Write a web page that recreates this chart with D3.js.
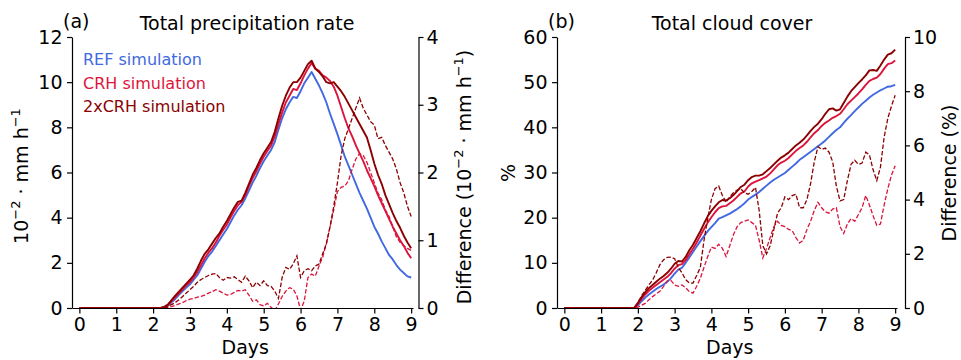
<!DOCTYPE html>
<html>
<head>
<meta charset="utf-8">
<script src="https://cdn.jsdelivr.net/npm/d3@7"></script>
<style>
  body { margin: 0; background: #fff; }
  text { font-family: "DejaVu Sans", sans-serif; }
</style>
</head>
<body>
<svg id="chart" width="961" height="360"></svg>
<script>
// time axis (days), shared by every series
const days = [0, 1.8, 1.9,
  2.0, 2.1, 2.2, 2.3, 2.4, 2.5, 2.6, 2.7, 2.8, 2.9,
  3.0, 3.1, 3.2, 3.3, 3.4, 3.5, 3.6, 3.7, 3.8, 3.9,
  4.0, 4.1, 4.2, 4.3, 4.4, 4.5, 4.6, 4.7, 4.8, 4.9,
  5.0, 5.1, 5.2, 5.3, 5.4, 5.5, 5.6, 5.7, 5.8, 5.9,
  6.0, 6.1, 6.2, 6.3, 6.4, 6.5, 6.6, 6.7, 6.8, 6.9,
  7.0, 7.1, 7.2, 7.3, 7.4, 7.5, 7.6, 7.7, 7.8, 7.9,
  8.0, 8.1, 8.2, 8.3, 8.4, 8.5, 8.6, 8.7, 8.8, 8.9,
  9.0];

// (a) total precipitation rate, 10^-2 mm/h
const precipREF = [0, 0, 0,
  0, 0, 0, 0.02, 0.1, 0.25, 0.4, 0.58, 0.75, 0.9,
  1.05, 1.25, 1.45, 1.75, 2.05, 2.3, 2.5, 2.75, 3.0, 3.25,
  3.5, 3.8, 4.1, 4.35, 4.55, 4.85, 5.2, 5.55, 5.85, 6.2,
  6.5, 6.75, 7.0, 7.35, 7.9, 8.4, 8.8, 9.1, 9.35, 9.3,
  9.6, 9.95, 10.2, 10.45, 10.15, 9.85, 9.5, 9.1, 8.6, 8.15,
  7.7, 7.2, 6.7, 6.3, 5.9, 5.5, 5.1, 4.75, 4.4, 4.0,
  3.6, 3.3, 2.95, 2.65, 2.35, 2.15, 1.9, 1.7, 1.55, 1.4,
  1.35];
const precipCRH = [0, 0, 0,
  0, 0, 0, 0.03, 0.12, 0.3, 0.48, 0.65, 0.82, 1.0,
  1.15, 1.35, 1.6, 1.9, 2.2, 2.45, 2.65, 2.9, 3.2, 3.45,
  3.7, 4.0, 4.3, 4.55, 4.7, 5.0, 5.4, 5.75, 6.05, 6.4,
  6.7, 6.95, 7.2, 7.6, 8.15, 8.65, 9.1, 9.4, 9.7, 9.65,
  9.95, 10.3, 10.6, 10.85, 10.6, 10.5, 10.3, 10.2, 10.05, 9.8,
  9.4, 8.9, 8.4, 7.95, 7.6, 7.2, 6.85, 6.5, 6.1, 5.75,
  5.4, 5.0, 4.65, 4.3, 3.95, 3.6, 3.3, 3.0, 2.75, 2.45,
  2.2];
const precip2xCRH = [0, 0, 0,
  0, 0, 0, 0.05, 0.15, 0.35, 0.55, 0.72, 0.9, 1.08,
  1.25, 1.45, 1.75, 2.1, 2.4, 2.6, 2.85, 3.1, 3.3, 3.6,
  3.85, 4.15, 4.45, 4.7, 4.75, 5.1, 5.5, 5.9, 6.2, 6.55,
  6.85, 7.1, 7.35, 7.8, 8.4, 8.95, 9.4, 9.75, 10.0, 10.0,
  10.2, 10.5, 10.8, 10.95, 10.6, 10.45, 10.25, 10.0, 9.95, 10.0,
  9.8, 9.6, 9.35, 9.05, 8.75, 8.45, 8.15, 7.85, 7.55, 7.0,
  6.4, 5.9, 5.5, 5.0, 4.6, 4.2, 3.85, 3.55, 3.2, 2.9,
  2.65];
// differences to REF (right axis)
const precipDiffCRH = [0, 0, 0,
  0, 0, 0, 0, 0.01, 0.02, 0.04, 0.06, 0.08, 0.11,
  0.13, 0.14, 0.16, 0.17, 0.19, 0.22, 0.24, 0.27, 0.25, 0.22,
  0.19, 0.2, 0.23, 0.26, 0.25, 0.27, 0.19, 0.1, 0.12, 0.05,
  0.03, 0.07, 0.01, -0.04, 0.06, 0.17, 0.25, 0.3, 0.28, 0.18,
  -0.03, 0.1, 0.45, 0.5, 0.47, 0.62, 0.75, 0.95, 1.2, 1.45,
  1.72, 1.78, 1.8, 1.88, 2.05, 2.2, 2.28, 2.25, 2.15, 2.0,
  1.85, 1.7, 1.6, 1.45, 1.35, 1.2, 1.05, 0.97, 0.92, 0.88,
  0.85];
const precipDiff2xCRH = [0, 0, 0,
  0, 0, 0, 0, 0.02, 0.05, 0.08, 0.12, 0.17, 0.22,
  0.27, 0.32, 0.38, 0.42, 0.45, 0.48, 0.5, 0.51, 0.45, 0.41,
  0.45, 0.44, 0.46, 0.42, 0.38, 0.47, 0.4, 0.3, 0.38, 0.33,
  0.4, 0.33, 0.32, 0.25, 0.14, 0.45, 0.6, 0.57, 0.65, 0.77,
  0.45, 0.55, 0.58, 0.55, 0.62, 0.65, 0.8, 0.95, 1.2, 1.5,
  1.85, 2.25, 2.5, 2.65, 2.8, 2.95, 3.1, 2.95, 2.85, 2.75,
  2.7, 2.5, 2.52, 2.4, 2.3, 2.2, 2.05, 1.85, 1.7, 1.5,
  1.35];

// (b) total cloud cover, %
const cloudREF = [0, 0, 0,
  0.6, 1.5, 2.3, 3.0, 3.6, 4.2, 4.7, 5.2, 5.8, 6.6,
  7.6, 8.5, 8.9, 10.0, 11.2, 12.4, 13.6, 14.8, 15.9, 17.0,
  17.9, 18.8, 19.8, 20.1, 20.5, 20.9, 21.4, 21.9, 22.5, 23.2,
  24.0, 24.6, 25.1, 25.7, 26.4, 27.1, 27.8, 28.4, 28.9, 29.4,
  29.9, 30.6, 31.3, 32.0, 32.8, 33.4, 34.0, 34.6, 35.2, 35.8,
  36.4, 37.1, 37.9, 38.7, 39.4, 40.0, 41.0, 41.9, 42.7, 43.6,
  44.4, 45.2, 45.9, 46.6, 47.2, 47.7, 48.2, 48.6, 49.0, 49.1,
  49.4];
const cloudCRH = [0, 0, 0,
  0.9, 2.0, 3.0, 3.8, 4.5, 5.1, 5.7, 6.3, 6.9, 7.7,
  8.7, 9.5, 9.7, 10.6, 11.9, 13.1, 14.5, 16.0, 17.5, 18.9,
  20.1, 21.2, 22.1, 22.5, 22.6, 23.2, 23.8, 24.6, 25.4, 25.8,
  26.9, 27.6, 28.0, 28.3, 28.7, 29.1, 29.8, 30.7, 31.6, 32.2,
  32.6, 33.2, 34.0, 34.8, 35.4, 36.0, 36.8, 37.8, 38.7, 39.4,
  40.3, 41.0, 41.5, 42.1, 42.5, 43.0, 44.0, 45.1, 45.9, 46.7,
  47.5, 48.4, 49.4, 50.3, 50.7, 51.0, 51.8, 53.0, 54.0, 54.2,
  54.8];
const cloud2xCRH = [0, 0, 0,
  1.1, 2.4, 3.5, 4.4, 5.1, 5.8, 6.5, 7.1, 7.8, 8.7,
  9.8, 10.4, 10.3, 11.3, 12.8, 14.0, 15.5, 17.0, 18.7, 20.3,
  21.5, 22.5, 23.4, 23.9, 23.8, 24.3, 25.0, 25.9, 26.8, 27.3,
  28.3, 29.0, 29.3, 29.3, 29.6, 30.3, 31.0, 31.8, 32.6, 33.3,
  33.8, 34.4, 35.2, 36.0, 36.6, 37.3, 38.2, 39.2, 40.1, 40.8,
  41.8, 43.0, 44.0, 44.2, 43.7, 44.0, 45.4, 46.8, 48.0, 48.9,
  49.8, 50.6, 51.5, 52.6, 52.7, 52.5, 53.7, 55.0, 56.1, 56.4,
  57.2];
const cloudDiffCRH = [0, 0, 0,
  0.03, 0.1, 0.17, 0.3, 0.42, 0.52, 0.62, 0.8, 1.0, 1.02,
  0.85, 0.8, 0.85, 0.75, 0.6, 0.55, 0.8, 1.1, 1.5, 1.9,
  2.25, 2.2, 2.35, 2.2, 1.9, 2.3, 2.7, 3.0, 3.15, 3.2,
  3.25, 3.15, 3.05, 2.5, 1.85, 2.2, 2.6, 3.0, 3.2, 3.05,
  3.0, 2.9, 2.85, 2.6, 2.4, 2.5, 2.9, 3.2, 3.6, 3.9,
  3.7, 3.55, 3.5, 3.65, 3.7, 3.0, 2.75, 3.1, 3.3, 3.2,
  3.45, 3.7, 4.15, 3.8, 3.4, 3.05, 3.1, 3.8, 4.4, 4.9,
  5.25];
const cloudDiff2xCRH = [0, 0, 0,
  0.2, 0.45, 0.65, 0.85, 1.03, 1.3, 1.6, 1.78, 1.87, 1.88,
  1.82, 1.5, 1.3, 1.05, 0.92, 0.92, 1.2, 1.5, 2.5, 3.3,
  4.0, 4.4, 4.5, 4.15, 3.9, 4.1, 4.25, 4.35, 4.4, 4.25,
  4.2, 4.3, 4.45, 3.6, 2.3, 2.0, 2.3, 2.9, 3.5, 3.7,
  4.1, 4.0, 4.15, 4.2, 3.7, 3.7, 4.0, 4.6, 5.4, 5.95,
  5.85, 5.9, 5.75, 5.4, 4.5, 3.95, 4.0, 4.7, 5.3, 5.45,
  5.3, 5.35, 5.75, 5.65, 5.1, 4.7, 5.2, 6.3, 7.0, 7.45,
  7.85];

const dayTicks = [0, 1, 2, 3, 4, 5, 6, 7, 8, 9];
const legendLabels = ['REF simulation', 'CRH simulation', '2xCRH simulation'];

const colREF = '#4169e1', colCRH = '#dc143c', col2x = '#8b0000';

const svg = d3.select('#chart');
svg.append('rect').attr('width', 961).attr('height', 360).attr('fill', '#fff');

const plotTop = 37, plotBottom = 308;

function styleAxis(g) {
  g.selectAll('path.domain').attr('stroke', '#000').attr('stroke-width', 1.2);
  g.selectAll('.tick line').attr('stroke', '#000').attr('stroke-width', 1.2);
  g.selectAll('.tick text')
    .attr('fill', '#000')
    .style('font-family', '"DejaVu Sans", sans-serif')
    .style('font-size', '19px');
}

// rotated label; parts = [[text, isSuperscript], ...]
function rotLabel(x, y, parts) {
  const t = svg.append('text')
    .attr('transform', 'translate(' + x + ',' + y + ') rotate(-90)')
    .attr('text-anchor', 'middle')
    .style('font-size', '19px')
    .attr('fill', '#000');
  let raised = false;
  parts.forEach(p => {
    const sp = t.append('tspan').text(p[0]);
    if (p[1]) {
      sp.attr('dy', raised ? 0 : -8).style('font-size', '13px');
      raised = true;
    } else {
      sp.attr('dy', raised ? 8 : 0);
      raised = false;
    }
  });
  return t;
}

function panel(o) {
  const x = d3.scaleLinear().domain([-0.2, 9.05]).range([o.left, o.right]);
  const y = d3.scaleLinear().domain([0, o.yMax]).range([plotBottom, plotTop]);
  const y2 = d3.scaleLinear().domain([0, o.y2Max]).range([plotBottom, plotTop]);

  const clipId = 'clip' + o.id;
  svg.append('clipPath').attr('id', clipId)
    .append('rect').attr('x', o.left).attr('y', plotTop - 2)
    .attr('width', o.rightSpine - o.left).attr('height', plotBottom - plotTop + 2);

  const gx = svg.append('g')
    .attr('transform', 'translate(0,' + plotBottom + ')')
    .call(d3.axisBottom(x).tickValues(dayTicks).tickFormat(d3.format('d'))
      .tickSize(5.5).tickSizeOuter(0).tickPadding(4.5));
  styleAxis(gx);

  const gy = svg.append('g')
    .attr('transform', 'translate(' + o.left + ',0)')
    .call(d3.axisLeft(y).tickValues(o.yTicks).tickFormat(d3.format('d'))
      .tickSize(5).tickSizeOuter(0).tickPadding(4.5));
  styleAxis(gy);

  const gy2 = svg.append('g')
    .attr('transform', 'translate(' + o.rightSpine + ',0)')
    .call(d3.axisRight(y2).tickValues(o.y2Ticks).tickFormat(d3.format('d'))
      .tickSize(5).tickSizeOuter(0).tickPadding(3));
  styleAxis(gy2);

  const lineL = d3.line().x((d, i) => x(days[i])).y(d => y(d));
  const lineR = d3.line().x((d, i) => x(days[i])).y(d => y2(d));

  const plot = svg.append('g').attr('clip-path', 'url(#' + clipId + ')');

  [[o.ref, colREF], [o.crh, colCRH], [o.x2, col2x]].forEach(s => {
    plot.append('path').datum(s[0])
      .attr('d', lineL)
      .attr('fill', 'none')
      .attr('stroke', s[1])
      .attr('stroke-width', 1.9)
      .attr('stroke-linejoin', 'round');
  });

  [[o.dCrh, colCRH], [o.d2x, col2x]].forEach(s => {
    plot.append('path').datum(s[0])
      .attr('d', lineR)
      .attr('fill', 'none')
      .attr('stroke', s[1])
      .attr('stroke-width', 1.3)
      .attr('stroke-dasharray', '4.5,2');
  });

  svg.append('text').attr('x', o.tagX).attr('y', 27.5)
    .style('font-size', '19px').attr('fill', '#000').text(o.tag);
  svg.append('text').attr('x', o.titleX).attr('y', 30)
    .attr('text-anchor', 'middle')
    .style('font-size', '19px').attr('fill', '#000').text(o.title);

  svg.append('text')
    .attr('x', (x(0) + x(9)) / 2).attr('y', 354)
    .attr('text-anchor', 'middle')
    .style('font-size', '19px').attr('fill', '#000').text('Days');

  return x;
}

panel({
  id: 'a', left: 72, right: 413, rightSpine: 418.5,
  yMax: 12, yTicks: [0, 2, 4, 6, 8, 10, 12],
  y2Max: 4, y2Ticks: [0, 1, 2, 3, 4],
  ref: precipREF, crh: precipCRH, x2: precip2xCRH,
  dCrh: precipDiffCRH, d2x: precipDiff2xCRH,
  tag: '(a)', tagX: 63, title: 'Total precipitation rate', titleX: 247
});

panel({
  id: 'b', left: 557, right: 897, rightSpine: 905,
  yMax: 60, yTicks: [0, 10, 20, 30, 40, 50, 60],
  y2Max: 10, y2Ticks: [0, 2, 4, 6, 8, 10],
  ref: cloudREF, crh: cloudCRH, x2: cloud2xCRH,
  dCrh: cloudDiffCRH, d2x: cloudDiff2xCRH,
  tag: '(b)', tagX: 548, title: 'Total cloud cover', titleX: 732
});

// legend in panel (a)
legendLabels.forEach((lab, i) => {
  svg.append('text')
    .attr('x', 83).attr('y', 65 + i * 23.5)
    .style('font-size', '16px')
    .attr('fill', [colREF, colCRH, col2x][i])
    .text(lab);
});

// axis labels
rotLabel(28, 176, [['10', false], ['\u22122', true], [' \u00b7 mm h', false], ['\u22121', true]]);
rotLabel(471, 177, [['Difference (10', false], ['\u22122', true], [' \u00b7 mm h', false], ['\u22121', true], [')', false]]);
rotLabel(515, 173, [['%', false]]);
rotLabel(956, 173, [['Difference (%)', false]]);
</script>
</body>
</html>
